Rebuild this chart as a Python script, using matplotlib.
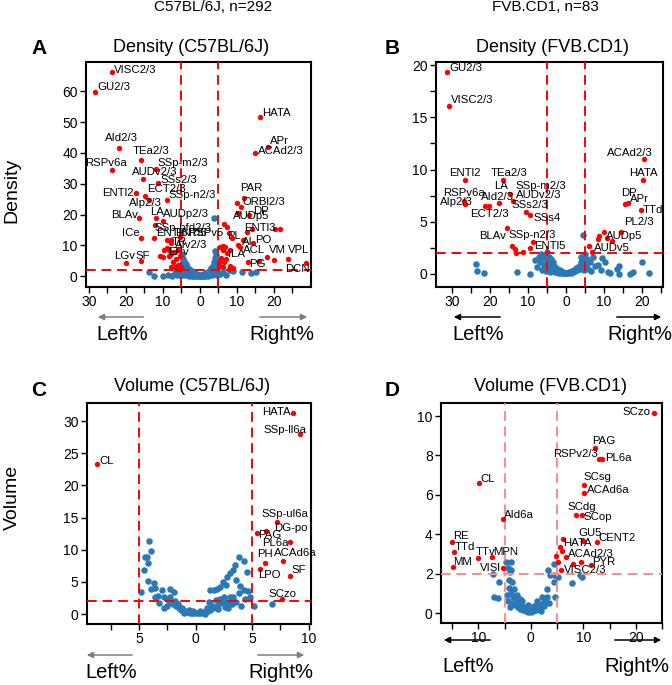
import matplotlib
matplotlib.use('Agg')
import matplotlib.pyplot as plt
from matplotlib.patches import FancyArrowPatch

plt.rcParams['font.family'] = ['Liberation Sans', 'DejaVu Sans']

W, H = 672, 685

# ---------------- data (x = signed % , y = value) ----------------
col_titles = ['C57BL/6J, n=292', 'FVB.CD1, n=83']
panel_titles = ['Density (C57BL/6J)', 'Density (FVB.CD1)', 'Volume (C57BL/6J)', 'Volume (FVB.CD1)']

a_blue = [
    (-13.8, 1.3), (-12.4, 0.1), (-9.9, 0.2), (-8.6, 0.3), (-7.5, 0.2), (-6.8, 1.0), (-6.4, 1.8), (-6.1, 0.5),
    (-5.7, 1.3), (-5.5, 0.3), (-4.9, 7.2), (-4.8, 6.3), (-4.7, 0.4), (-4.6, 5.5), (-4.5, 4.4), (-4.4, 3.6),
    (-4.3, 1.9), (-4.2, 5.0), (-4.2, 0.9), (-4.0, 2.8), (-3.9, 0.3), (-3.8, 3.9), (-3.6, 2.2), (-3.5, 3.1),
    (-3.4, 0.6), (-3.2, 1.8), (-3.0, 2.5), (-3.0, 0.2), (-2.8, 1.4), (-2.6, 2.0), (-2.6, 0.4), (-2.4, 1.1),
    (-2.2, 1.6), (-2.2, 0.2), (-2.0, 0.8), (-1.8, 1.2), (-1.8, 0.1), (-1.6, 0.6), (-1.4, 0.9), (-1.3, 0.2),
    (-1.2, 0.4), (-1.0, 0.7), (-0.8, 0.3), (-0.6, 0.5), (-0.4, 0.2), (-0.2, 0.4), (0.0, 0.1), (0.2, 0.3),
    (0.4, 0.2), (0.6, 0.5), (0.8, 0.3), (1.0, 0.6), (1.2, 0.4), (1.3, 0.1), (1.4, 0.9), (1.6, 0.6),
    (1.8, 1.2), (1.8, 0.3), (2.0, 0.8), (2.2, 1.5), (2.3, 0.2), (2.4, 1.0), (2.6, 2.0), (2.8, 1.3),
    (2.8, 0.5), (3.0, 2.6), (3.2, 1.7), (3.3, 0.3), (3.4, 3.4), (3.5, 2.3), (3.7, 4.5), (3.8, 3.0),
    (3.8, 0.7), (3.9, 18.8), (4.0, 5.8), (4.1, 8.1), (4.2, 6.8), (4.3, 1.2), (4.4, 3.8), (4.6, 2.2),
    (4.7, 5.2), (4.8, 0.6), (5.5, 0.8), (6.2, 1.5), (7.0, 0.5), (8.0, 1.9), (9.0, 1.8), (11.4, 1.5),
    (13.9, 1.2), (15.2, 1.3), (-0.9, 0.1), (0.5, 0.05), (1.1, 0.2), (-2.9, 0.9), (3.6, 1.5), (-3.7, 1.3),
    (4.5, 0.3), (-4.6, 2.6), (2.5, 0.6), (-1.5, 0.3),
]
a_red = [
    (-23.8, 66.2, 'VISC2/3'), (-28.4, 59.9, 'GU2/3'), (16.2, 51.5, 'HATA'), (18.3, 42.0, 'APr'),
    (14.9, 39.9, 'ACAd2/3'), (-21.9, 41.6, 'AId2/3'), (-15.9, 37.7, 'TEa2/3'), (-11.9, 34.7, 'SSp-m2/3'),
    (-23.8, 34.4, 'RSPv6a'), (-15.4, 31.5, 'AUDv2/3'), (-11.4, 30.2, 'SSs2/3'), (-17.3, 27.0, 'ENTl2'),
    (-14.9, 26.0, 'ECT2/3'), (-13.8, 24.7, 'AIp2/3'), (-9.0, 24.7, 'SSp-n2/3'), (-16.5, 18.8, 'BLAv'),
    (-11.9, 18.8, 'LA'), (-10.0, 18.0, 'AUDp2/3'), (-12.2, 16.6, 'SSp-bfd2/3'), (-15.9, 12.3, 'ICe'),
    (-12.4, 12.3, 'ENTl6'), (-7.8, 11.7, 'ENTl5'), (-5.4, 12.7, 'RSPv5'), (-8.8, 9.0, 'TR'),
    (-7.0, 8.0, 'AIv2/3'), (-8.5, 6.5, 'EPv'), (-20.0, 4.2, 'LGv'), (-15.9, 4.9, 'SF'),
    (11.9, 25.3, 'PAR'), (11.0, 22.4, 'ORBl2/3'), (10.0, 23.7, ''), (13.2, 19.8, 'DP'), (10.3, 20.5, 'AUDp5'),
    (12.7, 14.3, 'ENTl3'), (20.3, 15.3, ''), (21.6, 15.3, ''), (8.6, 12.3, 'PL'), (11.6, 11.7, 'AI'),
    (14.3, 10.7, 'PO'), (10.8, 9.4, 'ACL'), (7.3, 7.5, 'ILA'), (18.1, 6.2, 'VM'), (20.0, 5.2, ''),
    (13.0, 4.5, 'PG'), (23.8, 5.5, 'VPL'), (28.6, 4.2, 'DCN'),
    (-7.3, 4.5, ''), (-6.4, 5.6, ''), (-6.8, 2.9, ''), (-5.9, 3.7, ''), (-5.4, 2.4, ''), (-5.2, 2.9, ''),
    (-7.7, 7.3, ''), (-10.0, 6.2, ''), (-10.7, 6.7, ''), (-9.7, 8.5, ''), (-8.3, 8.5, ''), (-9.0, 11.7, ''),
    (-7.7, 10.8, ''), (-5.9, 8.5, ''), (-5.3, 6.4, ''), (-7.7, 3.0, ''), (-6.2, 2.2, ''),
    (5.2, 4.5, ''), (5.4, 3.4, ''), (6.1, 2.9, ''), (6.5, 4.6, ''), (5.4, 9.4, ''), (6.1, 9.8, ''),
    (6.5, 16.9, ''), (7.3, 15.9, ''), (7.8, 14.0, ''), (6.8, 9.4, ''), (6.2, 8.4, ''), (8.1, 8.4, ''),
    (10.3, 10.0, ''), (14.0, 15.3, ''), (8.1, 3.2, ''), (7.9, 2.4, ''), (9.0, 2.8, ''), (5.8, 6.0, ''),
    (7.0, 5.5, ''), (16.0, 5.0, ''),
]

b_blue = [
    (-23.7, 1.0), (-23.4, 0.3), (-21.6, 0.1), (-13.0, 0.2), (-9.5, 0.0), (-8.1, 1.3), (-7.6, 0.7), (-7.1, 1.6),
    (-6.8, 1.1), (-6.5, 1.9), (-6.3, 0.4), (-6.0, 1.5), (-5.8, 0.9), (-5.5, 1.8), (-5.3, 0.3), (-5.1, 1.2),
    (-4.9, 2.1), (-4.7, 0.6), (-4.5, 1.6), (-4.3, 1.0), (-4.1, 0.2), (-3.9, 1.4), (-3.7, 0.7), (-3.5, 1.1),
    (-3.3, 0.4), (-3.1, 0.8), (-2.9, 0.2), (-2.7, 0.6), (-2.5, 0.3), (-2.3, 0.5), (-2.1, 0.1), (-1.9, 0.3),
    (-1.7, 0.2), (-1.5, 0.4), (-1.3, 0.1), (-1.1, 0.2), (-0.9, 0.05), (-0.7, 0.15), (-0.5, 0.1), (-0.3, 0.05),
    (0.0, 0.1), (0.3, 0.05), (0.6, 0.1), (0.9, 0.2), (1.2, 0.1), (1.5, 0.3), (1.8, 0.2), (2.1, 0.4),
    (2.4, 0.3), (2.7, 0.6), (3.0, 0.4), (3.3, 0.8), (3.6, 0.5), (3.9, 1.1), (4.0, 1.6), (4.2, 0.7),
    (4.5, 3.7), (4.5, 1.3), (4.7, 0.4), (4.9, 1.9), (5.2, 0.9), (5.5, 1.4), (5.8, 0.5), (6.2, 1.1),
    (6.6, 0.3), (7.0, 1.6), (7.5, 0.8), (8.3, 0.9), (9.1, 0.4), (9.4, 1.5), (10.3, 1.1), (11.0, 0.2),
    (11.5, 0.1), (13.4, 0.5), (13.9, 0.8), (14.0, 0.0), (16.9, 0.0), (17.7, 0.2), (20.0, 1.1), (21.7, 0.05),
]
b_red = [
    (-31.3, 19.3, 'GU2/3'), (-30.8, 16.1, 'VISC2/3'), (20.5, 11.0, 'ACAd2/3'), (20.3, 9.0, 'HATA'),
    (-26.6, 9.0, 'ENTl2'), (-16.6, 9.0, 'TEa2/3'), (-14.7, 7.7, 'LA'), (-13.9, 7.0, 'SSp-m2/3'),
    (-26.8, 7.0, 'RSPv6a'), (-26.5, 6.7, 'AIp2/3'), (-21.3, 6.5, 'AId2/3'), (-20.3, 6.5, 'ECT2/3'),
    (-17.6, 6.8, 'AUDv2/3'), (-10.5, 5.9, 'SSs2/3'), (-9.6, 5.6, 'SSs4'), (-15.5, 4.4, 'BLAv'),
    (-8.7, 3.1, 'SSp-n2/3'), (-9.5, 2.5, 'ENTl5'), (-14.2, 2.7, ''), (-13.4, 2.4, ''), (-13.2, 2.0, ''),
    (-11.3, 2.1, ''), (15.5, 6.7, 'DP'), (16.3, 6.8, 'APr'), (19.7, 6.1, 'TTd'), (14.5, 4.0, 'PL2/3'),
    (10.0, 4.0, 'AUDp5'), (6.8, 2.1, 'AUDv5'), (8.4, 3.3, ''), (8.7, 3.6, ''), (10.8, 3.4, ''),
    (12.1, 3.2, ''), (6.1, 2.7, ''),
]

c_blue = [
    (-4.85, 3.5), (-4.6, 6.8), (-4.47, 8.9), (-4.3, 8.8), (-4.2, 8.0), (-4.1, 11.4), (-3.9, 9.85), (-4.2, 5.2),
    (-3.7, 4.9), (-3.9, 3.9), (-3.6, 4.0), (-3.6, 2.6), (-3.35, 2.8), (-3.0, 3.7), (-2.8, 2.7), (-2.76, 1.0),
    (-2.5, 2.4), (-2.26, 3.9), (-2.3, 2.6), (-1.9, 3.4), (-1.8, 2.0), (-2.3, 1.9), (-2.0, 1.5), (-1.7, 1.2),
    (-1.5, 0.9), (-1.3, 0.7), (-1.6, 1.6), (-1.1, 0.5), (-0.9, 0.4), (-1.2, 1.0), (-0.7, 0.3), (-0.5, 0.2),
    (-0.3, 0.15), (-0.1, 0.1), (0.1, 0.1), (0.3, 0.15), (0.5, 0.2), (0.7, 0.3), (0.9, 0.4), (1.1, 0.5),
    (1.3, 0.7), (1.5, 0.9), (1.7, 1.1), (1.2, 1.8), (1.4, 1.4), (1.9, 1.3), (2.1, 1.6), (2.3, 1.9),
    (2.0, 0.8), (2.6, 1.1), (1.28, 3.7), (1.6, 3.8), (1.9, 3.9), (2.2, 4.2), (2.4, 5.0), (2.7, 4.5),
    (2.76, 5.8), (3.0, 6.3), (3.3, 6.8), (3.5, 7.6), (3.85, 8.9), (4.3, 8.3), (4.5, 6.6), (3.6, 5.3),
    (3.9, 4.3), (4.3, 3.8), (4.6, 3.6), (3.8, 3.2), (3.3, 2.7), (3.0, 2.6), (2.5, 2.6), (2.2, 2.3),
    (1.8, 2.2), (2.8, 1.8), (3.2, 1.5), (3.6, 1.9), (4.0, 1.2), (4.4, 2.3), (2.9, 0.9), (-0.6, 0.6),
    (5.2, 1.3), (6.75, 1.55), (-0.2, 0.5), (0.4, 0.45), (1.0, 0.9), (-1.0, 0.2), (0.8, 0.05), (-2.5, 1.2),
    (4.8, 2.6), (-3.2, 1.7),
]
c_red = [
    (8.6, 31.3, 'HATA'), (9.2, 28.0, 'SSp-ll6a'), (-8.7, 23.3, 'CL'), (7.2, 14.3, 'SSp-ul6a'),
    (6.2, 12.9, 'DG-po'), (5.4, 12.6, 'PAG'), (8.3, 11.2, 'PL6a'), (6.1, 8.0, 'PH'), (7.7, 8.2, 'ACAd6a'),
    (5.7, 7.0, 'LPO'), (8.3, 5.9, 'SF'), (7.6, 2.4, 'SCzo'),
]

d_blue = [
    (-4.76, 2.6), (-3.7, 2.6), (-4.4, 2.27), (-3.7, 2.2), (-7.1, 2.0), (-6.0, 1.6), (-7.0, 0.8), (-6.3, 0.75),
    (-4.1, 1.7), (-3.5, 1.6), (-4.1, 1.3), (-3.8, 1.0), (-4.3, 0.6), (-3.6, 0.5), (-3.3, 0.8), (-3.0, 0.4),
    (-2.8, 0.6), (-2.5, 0.3), (-2.3, 0.5), (-2.0, 0.2), (-1.8, 0.4), (-1.5, 0.15), (-1.3, 0.3), (-1.0, 0.1),
    (-0.8, 0.25), (-0.5, 0.05), (-0.3, 0.15), (0.0, 0.05), (0.3, 0.15), (0.5, 0.1), (0.8, 0.25), (1.0, 0.15),
    (1.3, 0.3), (1.5, 0.2), (1.8, 0.4), (2.0, 0.3), (2.3, 0.5), (2.5, 0.35), (2.8, 0.6), (3.0, 1.2),
    (3.2, 2.2), (3.0, 0.8), (3.7, 1.95), (4.4, 2.5), (4.5, 1.6), (4.7, 0.8), (4.4, 1.95), (5.2, 1.85),
    (7.8, 1.55), (9.4, 1.95), (9.7, 1.85), (-3.9, 0.3), (-4.5, 0.9), (-2.6, 0.9), (-1.6, 0.6), (1.2, 0.6),
    (2.2, 0.8), (3.4, 0.5), (-4.0, 2.1), (-3.2, 1.2), (-0.6, 0.4), (0.6, 0.35), (-2.1, 0.7), (1.9, 0.1),
]
d_red = [
    (23.4, 10.15, 'SCzo'), (12.2, 8.4, 'PAG'), (13.0, 7.8, 'RSPv2/3'), (13.5, 7.8, 'PL6a'), (-9.9, 6.6, 'CL'),
    (10.1, 6.5, 'SCsg'), (10.1, 6.1, 'ACAd6a'), (8.6, 5.0, 'SCdg'), (9.7, 5.0, 'SCop'), (-5.3, 4.8, 'AId6a'),
    (-15.0, 3.6, 'RE'), (-14.7, 3.1, 'TTd'), (-10.0, 2.8, 'TTv'), (-7.4, 2.85, 'MPN'), (-14.9, 2.35, 'MM'),
    (-5.3, 2.3, 'VISl'), (9.9, 3.65, 'GU5'), (12.6, 3.6, 'CENT2'), (6.1, 3.75, 'HATA'), (5.5, 3.35, ''),
    (5.9, 3.15, ''), (4.8, 2.9, ''), (5.1, 2.6, ''), (6.7, 2.85, 'ACAd2/3'), (9.5, 2.6, ''), (8.0, 2.5, ''),
    (11.4, 2.45, 'PYR'), (5.7, 2.2, 'VISC2/3'),
]

# label placement: (dx px, dy px, ha)
a_off = {'VISC2/3': (2, 2, 'left'), 'GU2/3': (2, 5, 'left'), 'HATA': (2, 4, 'left'), 'APr': (2, 6, 'left'),
         'ACAd2/3': (3, 2, 'left'), 'AId2/3': (3, 10, 'center'), 'TEa2/3': (10, 9, 'center'),
         'SSp-m2/3': (2, 6, 'left'), 'RSPv6a': (-6, 7, 'center'), 'AUDv2/3': (12, 7, 'center'),
         'SSs2/3': (3, 3, 'left'), 'ENTl2': (-2, 0, 'right'), 'ECT2/3': (2, 7, 'left'),
         'AIp2/3': (-3, -3, 'center'), 'SSp-n2/3': (2, 5, 'left'), 'BLAv': (-1, 3, 'right'),
         'LA': (1, 6, 'center'), 'AUDp2/3': (0, 7, 'left'), 'SSp-bfd2/3': (0, -3, 'left'),
         'ICe': (-1, 5, 'right'), 'ENTl6': (2, 5, 'left'), 'ENTl5': (4, 7, 'left'), 'RSPv5': (8, 4, 'left'),
         'TR': (4, 6, 'left'), 'AIv2/3': (1, 7, 'left'), 'EPv': (0, 4, 'left'), 'LGv': (-1, 7, 'center'),
         'SF': (2, 5, 'center'), 'PAR': (7, 10, 'center'), 'ORBl2/3': (2, 5, 'left'), 'DP': (4, 4, 'left'),
         'AUDp5': (-5, -3, 'left'), 'ENTl3': (-3, 4, 'left'), 'PL': (-5, 2, 'left'), 'AI': (-1, -2, 'left'),
         'PO': (2, 3, 'left'), 'ACL': (3, -3, 'left'), 'ILA': (1, -1, 'left'), 'VM': (2, 7, 'left'),
         'PG': (1, -2, 'left'), 'VPL': (0, 9, 'left'), 'DCN': (4, -6, 'right')}
b_off = {'GU2/3': (2, 4, 'left'), 'VISC2/3': (2, 6, 'left'), 'ACAd2/3': (-14, 6, 'center'),
         'HATA': (0, 7, 'center'), 'ENTl2': (0, 7, 'center'), 'TEa2/3': (6, 7, 'center'),
         'LA': (-9, 8, 'center'), 'SSp-m2/3': (2, 15, 'left'), 'RSPv6a': (0, 8, 'center'),
         'AIp2/3': (-9, 2, 'center'), 'AId2/3': (12, 9, 'center'), 'ECT2/3': (1, -8, 'center'),
         'AUDv2/3': (17, 8, 'left'), 'SSs2/3': (4, 7, 'center'), 'SSs4': (4, -3, 'left'),
         'BLAv': (-1, -8, 'right'), 'SSp-n2/3': (-1, 7, 'center'), 'ENTl5': (4, 2, 'left'),
         'DP': (4, 11, 'center'), 'APr': (2, 4, 'left'), 'TTd': (2, 0, 'left'), 'PL2/3': (3, 10, 'left'),
         'AUDp5': (2, -4, 'left'), 'AUDv5': (2, 4, 'left')}
c_off = {'HATA': (-2, 1, 'right'), 'SSp-ll6a': (-15, 4, 'center'), 'CL': (2, 3, 'left'),
         'SSp-ul6a': (8, 8, 'center'), 'DG-po': (8, 3, 'left'), 'PAG': (1, -2, 'left'),
         'PL6a': (-1, -1, 'right'), 'PH': (0, 9, 'center'), 'ACAd6a': (13, 8, 'center'),
         'LPO': (-2, -6, 'left'), 'SF': (2, 6, 'left'), 'SCzo': (1, 5, 'center')}
d_off = {'SCzo': (-3, 1, 'right'), 'PAG': (9, 7, 'center'), 'RSPv2/3': (-1, 5, 'right'), 'PL6a': (3, 1, 'left'),
         'CL': (2, 4, 'left'), 'SCsg': (0, 8, 'left'), 'ACAd6a': (3, 3, 'left'), 'SCdg': (6, 8, 'center'),
         'SCop': (2, -2, 'left'), 'AId6a': (1, 4, 'left'), 'RE': (1, 6, 'left'), 'TTd': (1, 5, 'left'),
         'TTv': (-3, 6, 'left'), 'MPN': (1, 5, 'left'), 'MM': (1, 5, 'left'), 'VISl': (-2, 0, 'right'),
         'GU5': (7, 8, 'center'), 'CENT2': (1, 4, 'left'), 'HATA': (0, -4, 'left'), 'ACAd2/3': (2, 3, 'left'),
         'PYR': (2, 3, 'left'), 'VISC2/3': (3, 0, 'left')}


def rect(l, t, r, b):
    return [l / W, 1 - b / H, (r - l) / W, (b - t) / H]


def fpos(x, y):
    return x / W, 1 - y / H


def draw_panel(ax, blue, red, offsets, xlim, ylim, xticks, xshown, yticks, yshown, line_col):
    ax.scatter([p[0] for p in blue], [p[1] for p in blue], s=22, color='#2a78b6', linewidths=0, zorder=2)
    for xv in (-5, 5):
        ax.axvline(xv, color=line_col, ls=(0, (5, 3)), lw=1.4, zorder=3)
    ax.axhline(2, color=line_col, ls=(0, (5, 3)), lw=1.4, zorder=3)
    ax.scatter([p[0] for p in red], [p[1] for p in red], s=15, color='#ff0000', linewidths=0, zorder=4)
    for x, y, lab in red:
        if lab == '':
            continue
        dx, dy, ha = offsets.get(lab, (2, 3, 'left'))
        ax.annotate(lab, (x, y), xytext=(dx, dy), textcoords='offset pixels', ha=ha, va='center',
                    fontsize=8.2, zorder=5)
    ax.set_xlim(xlim)
    ax.set_ylim(ylim)
    ax.set_xticks(xticks)
    ax.set_xticklabels([f'{abs(v):g}' if v in xshown else '' for v in xticks])
    ax.set_yticks(yticks)
    ax.set_yticklabels([f'{v:g}' if v in yshown else '' for v in yticks])
    for sp in ax.spines.values():
        sp.set_linewidth(1.5)
    ax.tick_params(direction='out', length=4, width=1, labelsize=10, pad=2)


fig = plt.figure(figsize=(W / 100, H / 100), dpi=100)

axA = fig.add_axes(rect(86, 62, 311, 287))
draw_panel(axA, a_blue, a_red, a_off, (-30.8, 30), (-3.5, 69.5),
           [-30, -25, -20, -15, -10, -5, 0, 5, 10, 15, 20, 25], [-30, -20, -10, 0, 10, 20],
           [0, 10, 20, 30, 40, 50, 60], [0, 10, 20, 30, 40, 50, 60], 'red')

axB = fig.add_axes(rect(436, 62, 663, 287))
draw_panel(axB, b_blue, b_red, b_off, (-34.2, 25.5), (-1.25, 20.3),
           [-30, -25, -20, -15, -10, -5, 0, 5, 10, 15, 20, 25], [-30, -20, -10, 0, 10, 20],
           [0, 2.5, 5, 7.5, 10, 12.5, 15, 17.5, 20], [0, 5, 10, 15, 20], 'red')

axC = fig.add_axes(rect(87, 403, 311, 624))
draw_panel(axC, c_blue, c_red, c_off, (-9.6, 10.2), (-1.55, 32.8),
           [-7.5, -5, -2.5, 0, 2.5, 5, 7.5, 10], [-5, 0, 5, 10],
           [0, 5, 10, 15, 20, 25, 30], [0, 5, 10, 15, 20, 25, 30], 'red')

axD = fig.add_axes(rect(441, 403, 662, 623))
draw_panel(axD, d_blue, d_red, d_off, (-17.1, 25), (-0.5, 10.66),
           [-15, -10, -5, 0, 5, 10, 15, 20, 25], [-10, 0, 10, 20],
           [0, 2, 4, 6, 8, 10], [0, 2, 4, 6, 8, 10], '#ff8a8a')

# column headers, panel titles, letters
fig.text(*fpos(213, 7), col_titles[0], ha='center', va='center', fontsize=11)
fig.text(*fpos(545, 7), col_titles[1], ha='center', va='center', fontsize=11)
for (cx, cy), t in zip([(191, 47), (552, 47), (192, 387), (550, 387)], panel_titles):
    fig.text(*fpos(cx, cy), t, ha='center', va='center', fontsize=13)
for (cx, cy), t in zip([(39, 49), (392, 49), (39, 390), (392, 390)], 'ABCD'):
    fig.text(*fpos(cx, cy), t, ha='center', va='center', fontsize=15, fontweight='bold')

fig.text(*fpos(12, 190), 'Density', rotation=90, ha='center', va='center', fontsize=14)
fig.text(*fpos(12, 497), 'Volume', rotation=90, ha='center', va='center', fontsize=14)


def arrow(x0, x1, y, color):
    fig.add_artist(FancyArrowPatch(fpos(x0, y), fpos(x1, y), transform=fig.transFigure,
                                   arrowstyle='-|>', mutation_scale=9, lw=1.1, color=color))


# direction arrows and Left% / Right%
for l0, l1, r0, r1, ya, lx, rx, yt, col in [
        (146, 95, 257, 310, 317, 122, 282, 334, '#7f7f7f'),
        (503, 451, 614, 664, 317, 478, 640, 334, 'black'),
        (135, 84, 255, 307, 655, 111, 281, 673, '#7f7f7f'),
        (493, 441, 612, 664, 640, 468, 637, 666, 'black')]:
    arrow(l0, l1, ya, col)
    arrow(r0, r1, ya, col)
    fig.text(*fpos(lx, yt), 'Left%', ha='center', va='center', fontsize=14.5)
    fig.text(*fpos(rx, yt), 'Right%', ha='center', va='center', fontsize=14.5)

fig.savefig('out.png', dpi=100)
